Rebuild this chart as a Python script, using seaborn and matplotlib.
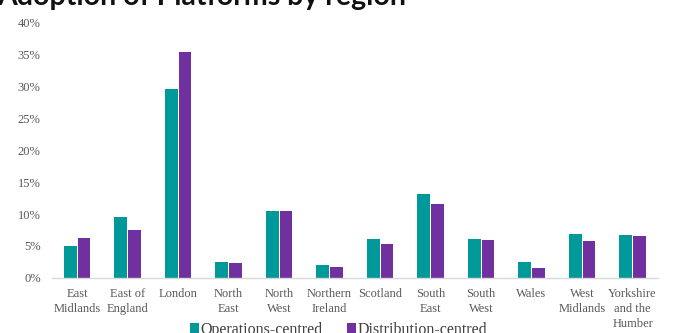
import matplotlib
matplotlib.use("Agg")
import matplotlib.pyplot as plt
import seaborn as sns
import pandas as pd
from matplotlib.patches import Patch

# Share of platforms by UK region, by platform type (%)
regions = [
    "East\nMidlands", "East of\nEngland", "London", "North\nEast", "North\nWest",
    "Northern\nIreland", "Scotland", "South\nEast", "South\nWest", "Wales",
    "West\nMidlands", "Yorkshire\nand the\nHumber",
]
operations_centred = [5.0, 9.6, 29.6, 2.4, 10.5, 2.0, 6.1, 13.2, 6.1, 2.4, 6.8, 6.7]
distribution_centred = [6.2, 7.5, 35.5, 2.3, 10.4, 1.7, 5.3, 11.5, 6.0, 1.6, 5.8, 6.5]
series_names = ["Operations-centred", "Distribution-centred"]
y_ticks = [0, 5, 10, 15, 20, 25, 30, 35, 40]

colors = ["#009999", "#7030A0"]
label_color = "#595959"

df = pd.DataFrame({
    "region": regions * 2,
    "share": operations_centred + distribution_centred,
    "type": [series_names[0]] * len(regions) + [series_names[1]] * len(regions),
})

sns.set_style("white")
plt.rcParams["font.family"] = ["Liberation Serif", "DejaVu Serif"]

fig = plt.figure(figsize=(6.91, 3.33), dpi=100)
ax = fig.add_axes([0.075, 0.166, 0.877, 0.765])

sns.barplot(
    data=df, x="region", y="share", hue="type", hue_order=series_names,
    palette=colors, saturation=1, width=0.54, gap=0.07, ax=ax, legend=False,
    edgecolor="none", linewidth=0,
)

ax.set_ylim(0, 40)
ax.set_xlim(-0.5, len(regions) - 0.5)
ax.set_yticks(y_ticks)
ax.set_yticklabels([f"{t}%" for t in y_ticks])
ax.set_xlabel("")
ax.set_ylabel("")
for side in ["left", "right", "top"]:
    ax.spines[side].set_visible(False)
ax.spines["bottom"].set_color("#D9D9D9")
ax.spines["bottom"].set_linewidth(1.0)
ax.tick_params(axis="y", length=0, pad=8, labelsize=9, labelcolor=label_color)
ax.tick_params(axis="x", length=0, pad=7.5, labelsize=9, labelcolor=label_color)
for lbl in ax.get_xticklabels():
    lbl.set_linespacing(1.3)

handles = [Patch(facecolor=c, edgecolor="none") for c in colors]
fig.legend(
    handles, series_names, loc="lower center", bbox_to_anchor=(0.49, -0.058),
    ncol=2, frameon=False, fontsize=11.5, handlelength=0.55, handleheight=0.55,
    handletextpad=0.1, columnspacing=1.5, labelcolor="#404040",
)

fig.text(
    -0.004, 0.986, "Adoption of Platforms by region", ha="left", va="baseline",
    fontsize=20.5, fontweight="bold", family=["Lato", "DejaVu Sans"], color="#111111",
)

fig.savefig("out.png", dpi=100)
